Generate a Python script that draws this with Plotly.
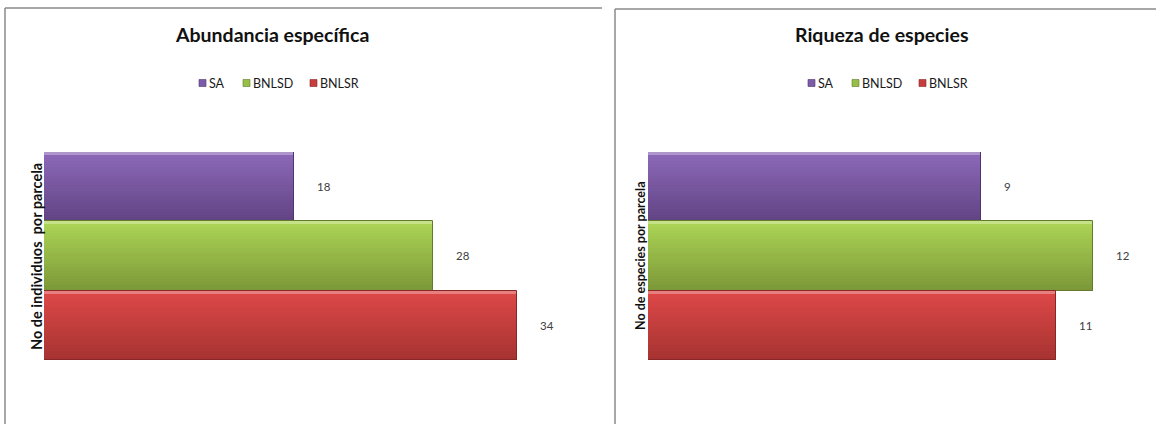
import plotly.graph_objects as go

# Data
series = ["SA", "BNLSD", "BNLSR"]
abundancia = [18, 28, 34]     # No de individuos por parcela
riqueza = [9, 12, 11]         # No de especies por parcela

# Top/bottom shades used to build a vertical gradient on each bar
top_colors = ["#8c69b8", "#acd555", "#de4848"]
bottom_colors = ["#624485", "#7c9838", "#a63331"]
edge_colors = ["#4f3570", "#637a2b", "#872826"]
swatch_colors = ["#7c5ca8", "#97bf45", "#c53d3c"]

W, H = 1156, 424
N_BANDS = 23
FONT = "Lato, Open Sans, sans-serif"


def hex_to_rgb(h):
    h = h.lstrip("#")
    return tuple(int(h[i:i + 2], 16) for i in (0, 2, 4))


def mix(c1, c2, t):
    a, b = hex_to_rgb(c1), hex_to_rgb(c2)
    return "rgb(%d,%d,%d)" % tuple(round(a[i] + (b[i] - a[i]) * t) for i in range(3))


def px_x(p):
    return p / W


def px_y(p):
    return 1 - p / H


fig = go.Figure()

panels = [
    dict(values=abundancia, xaxis="x", yaxis="y", center=276),
    dict(values=riqueza, xaxis="x2", yaxis="y2", center=885),
]

# Series positions on the category axis: SA on top
positions = [2, 1, 0]

for panel in panels:
    for i, name in enumerate(series):
        val = panel["values"][i]
        pos = positions[i]
        ys, cols = [], []
        for k in range(N_BANDS):
            t = k / (N_BANDS - 1)
            ys.append(pos + 0.5 - (k + 0.5) / N_BANDS)
            cols.append(mix(top_colors[i], bottom_colors[i], t))
        # light highlight on the upper edge
        cols[0] = mix(top_colors[i], "#ffffff", 0.3)
        fig.add_trace(go.Bar(
            x=[val] * N_BANDS, y=ys, orientation="h", width=1 / N_BANDS,
            marker=dict(color=cols, line=dict(width=0)),
            name=name, xaxis=panel["xaxis"], yaxis=panel["yaxis"],
            showlegend=False, hoverinfo="skip",
        ))
        # outline of the bar
        fig.add_trace(go.Bar(
            x=[val], y=[pos], orientation="h", width=1,
            marker=dict(color="rgba(0,0,0,0)",
                        line=dict(width=1, color=edge_colors[i])),
            xaxis=panel["xaxis"], yaxis=panel["yaxis"],
            showlegend=False, hoverinfo="skip",
        ))
        fig.add_annotation(
            x=val, y=pos, xref=panel["xaxis"], yref=panel["yaxis"],
            text=str(val), showarrow=False, xanchor="left", yanchor="middle",
            xshift=21, font=dict(family=FONT, size=11.5, color="#404040"),
        )

    # Legend row: small square swatch followed by the series name
    c = panel["center"]
    swatch_left = [c - 77, c - 33, c + 34]
    for i, name in enumerate(series):
        sx = swatch_left[i]
        fig.add_shape(type="rect", xref="paper", yref="paper",
                      x0=px_x(sx), x1=px_x(sx + 7), y0=px_y(86.5), y1=px_y(79.5),
                      fillcolor=swatch_colors[i], line=dict(width=0.6, color=edge_colors[i]))
        fig.add_annotation(x=px_x(sx + 8), y=px_y(83), xref="paper", yref="paper",
                           text=name, showarrow=False, xanchor="left", yanchor="middle",
                           font=dict(family=FONT, size=12.5, color="#1a1a1a"))

y_top, y_bot = 152, 360
ydom = [px_y(y_bot), px_y(y_top)]

axis_common = dict(showgrid=False, zeroline=False, showline=False,
                   showticklabels=False, ticks="", fixedrange=True)

fig.update_layout(
    width=W, height=H,
    margin=dict(l=0, r=0, t=0, b=0),
    paper_bgcolor="white", plot_bgcolor="white",
    barmode="overlay", bargap=0, showlegend=False,
    xaxis=dict(domain=[px_x(44), px_x(572)], range=[0, (572 - 44) / 13.9],
               anchor="y", **axis_common),
    yaxis=dict(domain=ydom, range=[-0.5, 2.5], anchor="x", **axis_common),
    xaxis2=dict(domain=[px_x(648), px_x(1145)], range=[0, (1145 - 648) / 37.05],
                anchor="y2", **axis_common),
    yaxis2=dict(domain=ydom, range=[-0.5, 2.5], anchor="x2", **axis_common),
)

# Titles
fig.add_annotation(x=px_x(272), y=px_y(34), xref="paper", yref="paper",
                   text="<b>Abundancia específica</b>", showarrow=False,
                   xanchor="center", yanchor="middle",
                   font=dict(family=FONT, size=19.5, color="#111"))
fig.add_annotation(x=px_x(881), y=px_y(34), xref="paper", yref="paper",
                   text="<b>Riqueza de especies</b>", showarrow=False,
                   xanchor="center", yanchor="middle",
                   font=dict(family=FONT, size=19.5, color="#111"))

# Axis titles
fig.add_annotation(x=px_x(36), y=px_y(257), xref="paper", yref="paper",
                   text="<b>No de individuos  por parcela</b>", showarrow=False,
                   textangle=-90, xanchor="center", yanchor="middle",
                   font=dict(family=FONT, size=14.5, color="#111"))
fig.add_annotation(x=px_x(640), y=px_y(256), xref="paper", yref="paper",
                   text="<b>No de especies por parcela</b>", showarrow=False,
                   textangle=-90, xanchor="center", yanchor="middle",
                   font=dict(family=FONT, size=12.5, color="#111"))

# Chart frames
frame = dict(color="#8a8a8a", width=1.5)
fig.add_shape(type="line", xref="paper", yref="paper",
              x0=px_x(5), x1=px_x(602), y0=px_y(8), y1=px_y(8), line=frame)
fig.add_shape(type="line", xref="paper", yref="paper",
              x0=px_x(5), x1=px_x(5), y0=px_y(8), y1=px_y(424), line=frame)
fig.add_shape(type="line", xref="paper", yref="paper",
              x0=px_x(615), x1=px_x(1156), y0=px_y(9), y1=px_y(9), line=frame)
fig.add_shape(type="line", xref="paper", yref="paper",
              x0=px_x(615), x1=px_x(615), y0=px_y(9), y1=px_y(424), line=frame)

fig.write_html("out.html")
